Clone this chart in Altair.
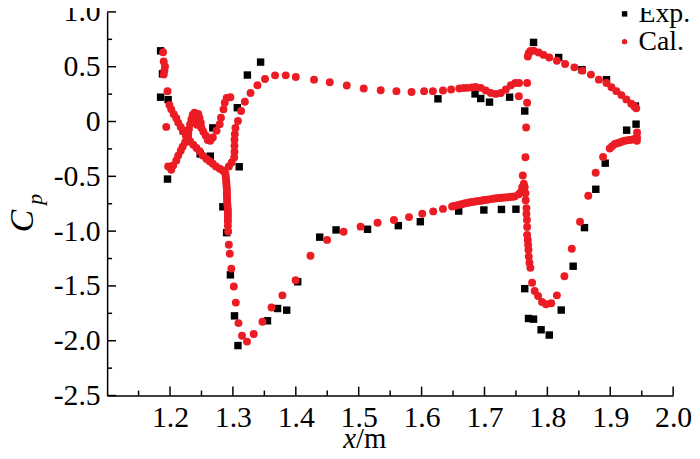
import altair as alt
import pandas as pd

# ---------------- data ----------------
exp_x = [1.185, 1.188, 1.185, 1.197, 1.221, 1.196, 1.248, 1.264, 1.268, 1.307,
         1.310, 1.323, 1.344, 1.284, 1.290, 1.296, 1.3025, 1.308, 1.355, 1.371,
         1.3855, 1.403, 1.438, 1.464, 1.514, 1.563, 1.598, 1.659, 1.699, 1.727,
         1.750, 1.764, 1.770, 1.778, 1.790, 1.803, 1.822, 1.841, 1.859, 1.877,
         1.892, 1.626, 1.685, 1.694, 1.708, 1.740, 1.764, 1.778, 1.818, 1.855,
         1.894, 1.940, 1.926, 1.941]
exp_y = [0.645, 0.435, 0.222, 0.200, -0.085, -0.525, -0.296, -0.316, -0.058, 0.126,
         -0.413, 0.424, 0.542, -0.778, -1.014, -1.399, -1.773, -2.044, -1.818, -1.706,
         -1.721, -1.462, -1.055, -0.989, -0.983, -0.950, -0.914, -0.817, -0.807, -0.802,
         -0.800, -1.525, -1.797, -1.803, -1.900, -1.948, -1.720, -1.320, -0.968, -0.618,
         -0.380, 0.207, 0.252, 0.210, 0.177, 0.222, 0.096, 0.722, 0.584, 0.473,
         0.382, 0.141, -0.079, -0.024]

# Cal. – segment A (upper-left diagonal)
cal_a_x = [1.189, 1.190, 1.192, 1.191, 1.190, 1.196, 1.199, 1.202, 1.206, 1.210,
           1.213, 1.217, 1.221, 1.225, 1.229, 1.232, 1.237, 1.242, 1.247, 1.252,
           1.258, 1.263, 1.268, 1.273, 1.279, 1.284, 1.287]
cal_a_y = [0.632, 0.548, 0.503, 0.464, 0.428, 0.277, 0.151, 0.111, 0.066, 0.030,
           -0.010, -0.049, -0.085, -0.121, -0.151, -0.182, -0.212, -0.241, -0.272, -0.311,
           -0.341, -0.363, -0.386, -0.410, -0.431, -0.447, -0.462]
# segment B (crossing branch with loop)
cal_b_x = [1.194, 1.197, 1.202, 1.205, 1.210, 1.213, 1.217, 1.220, 1.224, 1.226,
           1.229, 1.230, 1.232, 1.234, 1.236, 1.239, 1.241, 1.243, 1.245, 1.247,
           1.249, 1.250, 1.253, 1.257, 1.260, 1.264, 1.268, 1.274, 1.279, 1.281,
           1.285, 1.287, 1.290, 1.296]
cal_b_y = [-0.049, -0.410, -0.440, -0.401, -0.356, -0.311, -0.266, -0.230, -0.191, -0.146,
           -0.109, -0.070, -0.024, 0.021, 0.060, 0.080, 0.020, -0.030, 0.069, 0.033,
           -0.013, -0.058, -0.094, -0.130, -0.169, -0.175, -0.146, -0.085, -0.024, 0.035,
           0.111, 0.171, 0.216, 0.222]
# segment C (main element, upper side)
cal_c_x = [1.2935, 1.298, 1.302, 1.3025, 1.3025, 1.3025, 1.303, 1.304, 1.308, 1.313,
           1.319, 1.328, 1.339, 1.351, 1.367, 1.384, 1.400, 1.429, 1.454, 1.481,
           1.508, 1.535, 1.560, 1.584, 1.604, 1.618, 1.634, 1.647, 1.660, 1.667,
           1.673, 1.680, 1.686, 1.694, 1.702, 1.710, 1.718, 1.726, 1.734, 1.742,
           1.749, 1.755]
cal_c_y = [-0.410, -0.374, -0.329, -0.275, -0.221, -0.166, -0.115, -0.058, 0.005, 0.096,
           0.180, 0.261, 0.331, 0.388, 0.421, 0.421, 0.406, 0.382, 0.358, 0.328,
           0.301, 0.286, 0.277, 0.270, 0.277, 0.277, 0.283, 0.292, 0.301, 0.305,
           0.307, 0.311, 0.316, 0.307, 0.283, 0.261, 0.252, 0.261, 0.292, 0.331,
           0.352, 0.352]
# segment D (main element, lower side, suction peak)
cal_d_x = [1.2883, 1.2888, 1.2893, 1.2896, 1.2899, 1.2904, 1.2904, 1.2904, 1.2907, 1.2908,
           1.2911, 1.2915, 1.292, 1.292, 1.292, 1.292, 1.292, 1.292, 1.2925, 1.2935,
           1.295, 1.2975, 1.3014, 1.3046, 1.3088, 1.3145, 1.3224, 1.333, 1.347, 1.3614,
           1.3787, 1.3997, 1.4233, 1.4497, 1.476]
cal_d_y = [-0.483, -0.510, -0.537, -0.564, -0.591, -0.618, -0.646, -0.673, -0.700, -0.727,
           -0.754, -0.781, -0.808, -0.835, -0.862, -0.890, -0.915, -0.952, -1.003, -1.125,
           -1.206, -1.342, -1.505, -1.652, -1.839, -1.954, -2.008, -1.939, -1.827, -1.697,
           -1.586, -1.448, -1.224, -1.080, -1.005]
# segment E (main element, lower side, rear part)
cal_e_x = [1.503, 1.530, 1.556, 1.580, 1.601, 1.6185, 1.634, 1.6485, 1.652, 1.656,
           1.660, 1.664, 1.668, 1.672, 1.676, 1.680, 1.684, 1.688, 1.692, 1.696,
           1.700, 1.704, 1.708, 1.712, 1.716, 1.720, 1.724, 1.728, 1.732, 1.736,
           1.740, 1.744, 1.748, 1.7545, 1.758, 1.760, 1.7625]
cal_e_y = [-0.959, -0.923, -0.899, -0.872, -0.842, -0.820, -0.797, -0.775, -0.770, -0.765,
           -0.760, -0.754, -0.748, -0.743, -0.739, -0.735, -0.731, -0.728, -0.724, -0.720,
           -0.716, -0.713, -0.710, -0.706, -0.703, -0.700, -0.698, -0.696, -0.694, -0.692,
           -0.689, -0.687, -0.684, -0.664, -0.643, -0.600, -0.567]
# segment F (rear element, lower side)
cal_f_x = [1.7678, 1.7546, 1.7678, 1.7662, 1.7651, 1.7609, 1.7640, 1.7651, 1.7655, 1.7667,
           1.7667, 1.7675, 1.7678, 1.7678, 1.7688, 1.7694, 1.7699, 1.7704, 1.7715, 1.7730,
           1.7757, 1.7798, 1.7852, 1.7915, 1.7978, 1.8062, 1.8151, 1.8271, 1.8388, 1.8519,
           1.8650, 1.8768, 1.8886, 1.8992, 1.9030, 1.9071, 1.9110, 1.9150, 1.9190, 1.9229,
           1.9270, 1.9308, 1.9350, 1.9387, 1.9423, 1.9426, 1.9426]
cal_f_y = [0.352, 0.231, 0.171, -0.055, -0.326, -0.492, -0.600, -0.655, -0.718, -0.790,
           -0.844, -0.899, -0.962, -1.034, -1.080, -1.125, -1.170, -1.231, -1.288, -1.335,
           -1.471, -1.547, -1.592, -1.647, -1.667, -1.658, -1.586, -1.411, -1.161, -0.914,
           -0.677, -0.467, -0.323, -0.246, -0.225, -0.205, -0.198, -0.191, -0.183, -0.175,
           -0.172, -0.169, -0.165, -0.160, -0.175, -0.146, -0.100]
# segment G (rear element, upper side)
cal_g_x = [1.7689, 1.7703, 1.7730, 1.7782, 1.7861, 1.7940, 1.8030, 1.8151, 1.8282, 1.8429,
           1.8555, 1.8692, 1.8819, 1.8940, 1.9019, 1.9098, 1.9177, 1.9256, 1.9334, 1.9387,
           1.9413]
cal_g_y = [0.593, 0.623, 0.643, 0.645, 0.629, 0.608, 0.584, 0.554, 0.524, 0.494,
           0.464, 0.428, 0.382, 0.352, 0.313, 0.277, 0.241, 0.202, 0.162, 0.137,
           0.120]

x_major = [1.2, 1.3, 1.4, 1.5, 1.6, 1.7, 1.8, 1.9, 2.0]
x_minor = [1.15, 1.25, 1.35, 1.45, 1.55, 1.65, 1.75, 1.85, 1.95]
y_major = [-2.5, -2.0, -1.5, -1.0, -0.5, 0.0, 0.5, 1.0]
y_minor = [-2.25, -1.75, -1.25, -0.75, -0.25, 0.25, 0.75]
series_names = ["Exp.", "Cal."]

# ---------------- chart ----------------
W, H = 571, 387
FONT = "Liberation Serif"
RED = "#ec1c24"
LBL = 30

cal_x = cal_a_x + cal_b_x + cal_c_x + cal_d_x + cal_e_x + cal_f_x + cal_g_x
cal_y = cal_a_y + cal_b_y + cal_c_y + cal_d_y + cal_e_y + cal_f_y + cal_g_y
exp_df = pd.DataFrame({"x": exp_x, "y": exp_y, "series": series_names[0]})
cal_df = pd.DataFrame({"x": cal_x, "y": cal_y, "series": series_names[1]})

xscale = alt.Scale(domain=[1.1, 2.0], nice=False, zero=False)
yscale = alt.Scale(domain=[-2.5, 1.0], nice=False, zero=False)

xaxis = alt.Axis(values=x_major, format=".1f", ticks=False, tickSize=0, grid=False,
                 domainColor="black", domainWidth=1.5, labelFont=FONT, labelFontSize=LBL,
                 labelColor="black", labelPadding=7, title=None, labelFlush=False,
                 labelOverlap=False)
yaxis = alt.Axis(values=y_major, ticks=False, tickSize=0, grid=False,
                 labelExpr="datum.value == 0 ? '0' : (datum.value < 0 ? '-' + format(-datum.value, '.1f') : format(datum.value, '.1f'))",
                 domainColor="black", domainWidth=1.5, labelFont=FONT, labelFontSize=LBL,
                 labelColor="black", labelPadding=7, title=None, labelFlush=False,
                 labelOverlap=False)

leg = alt.Legend(title=None, orient="none", legendX=508, legendY=-12, padding=0,
                 labelFont=FONT, labelFontSize=28, labelColor="black", symbolSize=30,
                 labelOffset=0, rowPadding=0, symbolStrokeWidth=0)
color = alt.Color("series:N", scale=alt.Scale(domain=series_names, range=["#000000", RED]), legend=leg)
shape = alt.Shape("series:N", scale=alt.Scale(domain=series_names, range=["square", "circle"]), legend=leg)

exp_layer = alt.Chart(exp_df).mark_point(filled=True, opacity=1, size=56, strokeWidth=0).encode(
    x=alt.X("x:Q", scale=xscale, axis=xaxis),
    y=alt.Y("y:Q", scale=yscale, axis=yaxis),
    color=color, shape=shape)
cal_layer = alt.Chart(cal_df).mark_point(filled=True, opacity=1, size=64, strokeWidth=0).encode(
    x=alt.X("x:Q", scale=xscale, axis=xaxis),
    y=alt.Y("y:Q", scale=yscale, axis=yaxis),
    color=color, shape=shape)

def xticks(vals, length):
    return alt.Chart(pd.DataFrame({"v": vals})).mark_rule(color="black", strokeWidth=1.5).encode(
        x=alt.X("v:Q", scale=xscale, axis=xaxis), y=alt.value(H), y2=alt.value(H - length))

def yticks(vals, length):
    return alt.Chart(pd.DataFrame({"v": vals})).mark_rule(color="black", strokeWidth=1.5).encode(
        y=alt.Y("v:Q", scale=yscale, axis=yaxis), x=alt.value(0), x2=alt.value(length))

one = alt.Data(values=[{}])
def label(txt, px, py, size, italic=False, angle=0, align="center", baseline="middle"):
    kw = dict(text=txt, font=FONT, fontSize=size, color="black", align=align, baseline=baseline)
    if italic:
        kw["fontStyle"] = "italic"
    if angle:
        kw["angle"] = angle
    return alt.Chart(one).mark_text(**kw).encode(x=alt.value(px), y=alt.value(py))

titles = [
    label("C", -85, 211, 34, italic=True, angle=270),
    label("p", -73, 189, 22, italic=True, angle=270),
    label("x", 251, 440, 29, italic=True, align="right", baseline="alphabetic"),
    label("/m", 251, 440, 29, align="left", baseline="alphabetic"),
]

chart = alt.layer(
    xticks(x_major, 9), xticks(x_minor, 5), yticks(y_major, 9), yticks(y_minor, 5),
    exp_layer, cal_layer, *titles
).properties(
    width=W, height=H,
    padding={"left": 100, "top": 2, "right": 19, "bottom": 54},
    autosize=alt.AutoSizeParams(type="none"),
    background="white",
).configure_view(strokeWidth=0)

chart.save("out.html", embed_options={"renderer": "svg", "actions": False})
